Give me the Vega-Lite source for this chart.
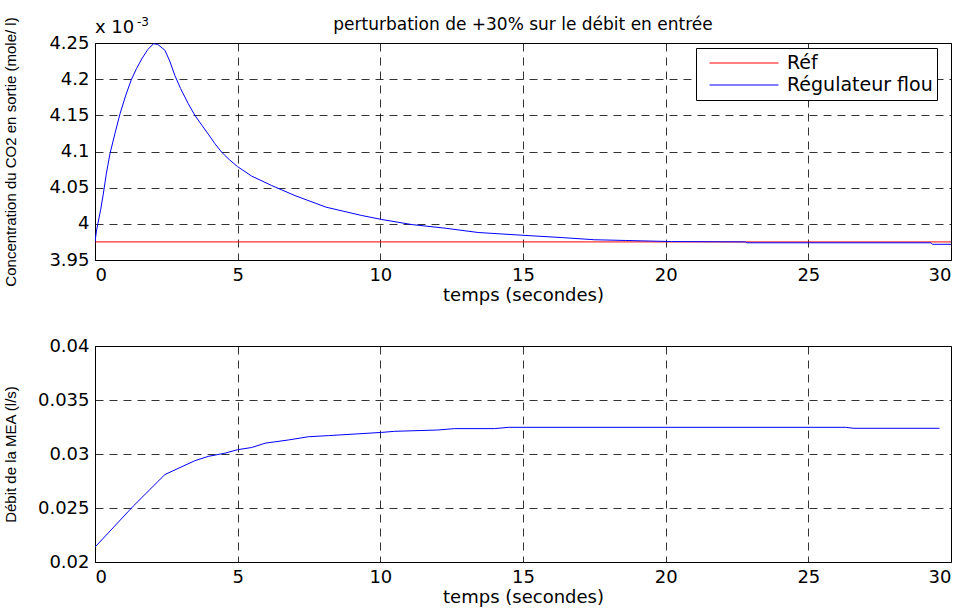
{
  "$schema": "https://vega.github.io/schema/vega-lite/v6.json",
  "background": "white",
  "padding": {"left": 2, "top": 15, "right": 5, "bottom": 0},
  "spacing": 86,
  "bounds": "flush",
  "config": {
    "font": "DejaVu Sans",
    "view": {"stroke": "black", "strokeWidth": 1},
    "axis": {
      "domain": false,
      "ticks": false,
      "grid": true,
      "gridColor": "#000000",
      "gridDash": [8, 6],
      "gridWidth": 1,
      "gridOpacity": 0.8,
      "labelFont": "DejaVu Sans",
      "labelFontSize": 18,
      "labelColor": "#000000",
      "labelPadding": 6,
      "labelOverlap": false,
      "titleFont": "DejaVu Sans",
      "titleFontWeight": "normal",
      "titleColor": "#000000"
    },
    "axisX": {"titleFontSize": 18, "titlePadding": 2},
    "axisY": {"titleFont": "Liberation Sans", "titleFontSize": 15, "titlePadding": 19, "minExtent": 58, "maxExtent": 58}
  },
  "vconcat": [
    {
      "width": 856,
      "height": 217,
      "title": {
        "text": "perturbation de +30% sur le débit en entrée",
        "frame": "group",
        "anchor": "middle",
        "font": "DejaVu Sans",
        "fontSize": 17,
        "fontWeight": "normal",
        "color": "#000000",
        "offset": 4,
        "dy": 22
      },
      "encoding": {
        "x": {
          "field": "t",
          "type": "quantitative",
          "scale": {"domain": [0, 30], "nice": false},
          "axis": {"values": [0, 5, 10, 15, 20, 25, 30], "labelOverlap": false, "title": "temps (secondes)"}
        },
        "y": {
          "field": "c",
          "type": "quantitative",
          "scale": {"domain": [3.95, 4.25], "nice": false, "zero": false},
          "axis": {
            "values": [3.95, 4, 4.05, 4.1, 4.15, 4.2, 4.25],
            "format": "~g",
            "labelOverlap": false,
            "title": "Concentration du CO2 en sortie (mole/ l)"
          }
        }
      },
      "layer": [
        {
          "data": {
            "values": [
              {"serie": "Réf", "t": 0, "c": 3.975},
              {"serie": "Réf", "t": 30, "c": 3.975},
              {"serie": "Régulateur flou", "t": 0, "c": 3.975},
              {"serie": "Régulateur flou", "t": 0.05, "c": 3.99},
              {"serie": "Régulateur flou", "t": 0.1, "c": 4.0},
              {"serie": "Régulateur flou", "t": 0.2, "c": 4.02},
              {"serie": "Régulateur flou", "t": 0.29, "c": 4.041},
              {"serie": "Régulateur flou", "t": 0.4, "c": 4.07},
              {"serie": "Régulateur flou", "t": 0.525, "c": 4.097},
              {"serie": "Régulateur flou", "t": 0.7, "c": 4.125},
              {"serie": "Régulateur flou", "t": 0.876, "c": 4.152},
              {"serie": "Régulateur flou", "t": 1.08, "c": 4.178},
              {"serie": "Régulateur flou", "t": 1.28, "c": 4.2},
              {"serie": "Régulateur flou", "t": 1.46, "c": 4.215},
              {"serie": "Régulateur flou", "t": 1.64, "c": 4.228},
              {"serie": "Régulateur flou", "t": 1.85, "c": 4.241},
              {"serie": "Régulateur flou", "t": 2.05, "c": 4.249},
              {"serie": "Régulateur flou", "t": 2.2, "c": 4.248},
              {"serie": "Régulateur flou", "t": 2.45, "c": 4.24},
              {"serie": "Régulateur flou", "t": 2.62, "c": 4.225},
              {"serie": "Régulateur flou", "t": 2.8, "c": 4.205},
              {"serie": "Régulateur flou", "t": 3.0, "c": 4.187},
              {"serie": "Régulateur flou", "t": 3.27, "c": 4.166},
              {"serie": "Régulateur flou", "t": 3.5, "c": 4.15},
              {"serie": "Régulateur flou", "t": 3.75, "c": 4.136},
              {"serie": "Régulateur flou", "t": 3.97, "c": 4.124},
              {"serie": "Régulateur flou", "t": 4.2, "c": 4.111},
              {"serie": "Régulateur flou", "t": 4.44, "c": 4.099},
              {"serie": "Régulateur flou", "t": 4.7, "c": 4.089},
              {"serie": "Régulateur flou", "t": 5.0, "c": 4.079},
              {"serie": "Régulateur flou", "t": 5.49, "c": 4.066},
              {"serie": "Régulateur flou", "t": 6.19, "c": 4.053},
              {"serie": "Régulateur flou", "t": 7.01, "c": 4.039},
              {"serie": "Régulateur flou", "t": 8.1, "c": 4.023},
              {"serie": "Régulateur flou", "t": 9.35, "c": 4.0115},
              {"serie": "Régulateur flou", "t": 10.05, "c": 4.006},
              {"serie": "Régulateur flou", "t": 11.1, "c": 3.999},
              {"serie": "Régulateur flou", "t": 12.27, "c": 3.994},
              {"serie": "Régulateur flou", "t": 13.43, "c": 3.988},
              {"serie": "Régulateur flou", "t": 15.07, "c": 3.984},
              {"serie": "Régulateur flou", "t": 16.36, "c": 3.981},
              {"serie": "Régulateur flou", "t": 17.5, "c": 3.978},
              {"serie": "Régulateur flou", "t": 18.6, "c": 3.977},
              {"serie": "Régulateur flou", "t": 20.2, "c": 3.9755},
              {"serie": "Régulateur flou", "t": 22.8, "c": 3.975},
              {"serie": "Régulateur flou", "t": 22.85, "c": 3.9738},
              {"serie": "Régulateur flou", "t": 29.3, "c": 3.9738},
              {"serie": "Régulateur flou", "t": 29.35, "c": 3.9717},
              {"serie": "Régulateur flou", "t": 30, "c": 3.9717}
            ]
          },
          "mark": {"type": "line", "strokeWidth": 1, "clip": true},
          "encoding": {
            "color": {
              "field": "serie",
              "type": "nominal",
              "scale": {"domain": ["Réf", "Régulateur flou"], "range": ["#ff0000", "#0000ff"]},
              "legend": {
                "title": null,
                "orient": "none",
                "legendX": 601,
                "legendY": 5,
                "strokeColor": "#000000",
                "fillColor": "#ffffff",
                "padding": 4,
                "symbolType": "stroke",
                "symbolSize": 4761,
                "symbolStrokeWidth": 1,
                "symbolOffset": 9,
                "clipHeight": 22,
                "rowPadding": 0,
                "labelFont": "DejaVu Sans",
                "labelFontSize": 19,
                "labelOffset": 8,
                "labelColor": "#000000"
              }
            }
          }
        },
        {
          "data": {"values": [{"t": 0, "c": 4.25, "lab": "x 10"}]},
          "mark": {"type": "text", "align": "left", "baseline": "alphabetic", "dy": -10, "fontSize": 18, "font": "DejaVu Sans", "color": "#000000"},
          "encoding": {"text": {"field": "lab"}}
        },
        {
          "data": {"values": [{"t": 0, "c": 4.25, "lab": "-3"}]},
          "mark": {"type": "text", "align": "left", "baseline": "alphabetic", "dx": 42, "dy": -17, "fontSize": 12, "font": "DejaVu Sans", "color": "#000000"},
          "encoding": {"text": {"field": "lab"}}
        }
      ]
    },
    {
      "width": 856,
      "height": 216,
      "data": {
        "values": [
          {"t": 0, "d": 0.02138},
          {"t": 1.34, "d": 0.02517},
          {"t": 2.45, "d": 0.0281},
          {"t": 3.5, "d": 0.02938},
          {"t": 3.97, "d": 0.02978},
          {"t": 4.56, "d": 0.03008},
          {"t": 5.0, "d": 0.0304},
          {"t": 5.49, "d": 0.0306},
          {"t": 5.96, "d": 0.031},
          {"t": 6.78, "d": 0.0313},
          {"t": 7.48, "d": 0.0316},
          {"t": 8.18, "d": 0.0317},
          {"t": 10.05, "d": 0.032},
          {"t": 10.5, "d": 0.0321},
          {"t": 12.0, "d": 0.03222},
          {"t": 12.6, "d": 0.03235},
          {"t": 14.0, "d": 0.03235},
          {"t": 14.5, "d": 0.03247},
          {"t": 26.3, "d": 0.03247},
          {"t": 26.6, "d": 0.03238},
          {"t": 29.6, "d": 0.03238}
        ]
      },
      "mark": {"type": "line", "color": "#0000ff", "strokeWidth": 1},
      "encoding": {
        "x": {
          "field": "t",
          "type": "quantitative",
          "scale": {"domain": [0, 30], "nice": false},
          "axis": {"values": [0, 5, 10, 15, 20, 25, 30], "labelOverlap": false, "title": "temps (secondes)"}
        },
        "y": {
          "field": "d",
          "type": "quantitative",
          "scale": {"domain": [0.02, 0.04], "nice": false, "zero": false},
          "axis": {
            "values": [0.02, 0.025, 0.03, 0.035, 0.04],
            "format": "~g",
            "labelOverlap": false,
            "title": "Débit de la MEA (l/s)"
          }
        }
      }
    }
  ]
}
